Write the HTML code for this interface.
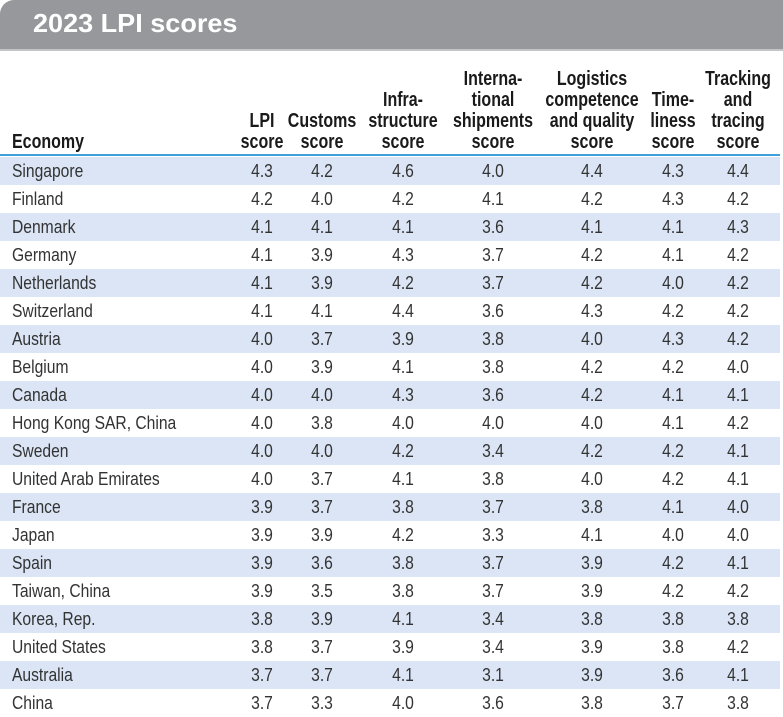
<!DOCTYPE html>
<html><head><meta charset="utf-8"><style>
*{margin:0;padding:0;box-sizing:border-box}
body{width:783px;height:715px;background:#fff;position:relative;overflow:hidden;font-family:"Liberation Sans",sans-serif}
.title{position:absolute;left:0;top:0;width:783px;height:51px;background:#97989b;border-top-left-radius:14px;border-bottom:2px solid #c4c5c7}
.title span{position:absolute;left:33px;top:8px;color:#fff;font-weight:bold;font-size:26px;transform:scaleX(1.04);transform-origin:left}
.h{position:absolute;font-weight:bold;font-size:20px;color:#1a1a1a;line-height:21px;text-align:center;width:130px;bottom:562px;transform:scaleX(.8);transform-origin:center}
.row{position:absolute;left:0;width:780px;height:28px;font-size:18.4px;color:#333;line-height:28px}
.row.b{background:#dbe5f5}
.row span{position:absolute;top:0;width:80px;text-align:center;transform:scaleX(.85)}
.row span.n{left:12px;width:auto;text-align:left;transform-origin:left}
.line{position:absolute;left:0;top:154px;width:780px;height:2px;background:#3fa0dc}
</style></head><body>
<div class="title"><span>2023 LPI scores</span></div>
<div class="h" style="left:12px;width:auto;text-align:left;transform-origin:left">Economy</div>
<div class="h" style="left:197px">LPI<br>score</div>
<div class="h" style="left:257px">Customs<br>score</div>
<div class="h" style="left:338px">Infra-<br>structure<br>score</div>
<div class="h" style="left:428px">Interna-<br>tional<br>shipments<br>score</div>
<div class="h" style="left:527px">Logistics<br>competence<br>and quality<br>score</div>
<div class="h" style="left:608px">Time-<br>liness<br>score</div>
<div class="h" style="left:673px">Tracking<br>and<br>tracing<br>score</div>
<div class="line"></div>
<div id="rows"></div>
<script>
var d=[["Singapore","4.3","4.2","4.6","4.0","4.4","4.3","4.4"],
["Finland","4.2","4.0","4.2","4.1","4.2","4.3","4.2"],
["Denmark","4.1","4.1","4.1","3.6","4.1","4.1","4.3"],
["Germany","4.1","3.9","4.3","3.7","4.2","4.1","4.2"],
["Netherlands","4.1","3.9","4.2","3.7","4.2","4.0","4.2"],
["Switzerland","4.1","4.1","4.4","3.6","4.3","4.2","4.2"],
["Austria","4.0","3.7","3.9","3.8","4.0","4.3","4.2"],
["Belgium","4.0","3.9","4.1","3.8","4.2","4.2","4.0"],
["Canada","4.0","4.0","4.3","3.6","4.2","4.1","4.1"],
["Hong Kong SAR, China","4.0","3.8","4.0","4.0","4.0","4.1","4.2"],
["Sweden","4.0","4.0","4.2","3.4","4.2","4.2","4.1"],
["United Arab Emirates","4.0","3.7","4.1","3.8","4.0","4.2","4.1"],
["France","3.9","3.7","3.8","3.7","3.8","4.1","4.0"],
["Japan","3.9","3.9","4.2","3.3","4.1","4.0","4.0"],
["Spain","3.9","3.6","3.8","3.7","3.9","4.2","4.1"],
["Taiwan, China","3.9","3.5","3.8","3.7","3.9","4.2","4.2"],
["Korea, Rep.","3.8","3.9","4.1","3.4","3.8","3.8","3.8"],
["United States","3.8","3.7","3.9","3.4","3.9","3.8","4.2"],
["Australia","3.7","3.7","4.1","3.1","3.9","3.6","4.1"],
["China","3.7","3.3","4.0","3.6","3.8","3.7","3.8"]];
var c=[262,322,403,493,592,673,738],h="";
d.forEach(function(r,i){h+='<div class="row'+(i%2==0?' b':'')+'" style="top:'+(157+i*28)+'px"><span class="n">'+r[0]+'</span>';
for(var j=1;j<8;j++)h+='<span style="left:'+(c[j-1]-40)+'px">'+r[j]+'</span>';h+='</div>';});
document.getElementById("rows").innerHTML=h;
</script>
</body></html>
